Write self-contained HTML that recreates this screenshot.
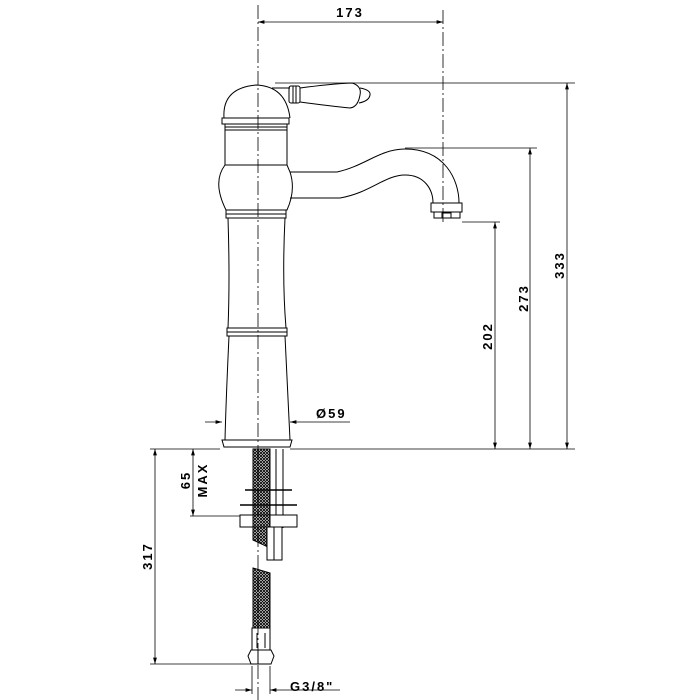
<!DOCTYPE html>
<html><head><meta charset="utf-8"><style>
html,body{margin:0;padding:0;background:#fff}
svg{display:block}
text{font-family:"Liberation Sans",sans-serif;font-weight:bold;font-size:13px;fill:#000;letter-spacing:2px}
</style></head><body>
<svg width="700" height="700" viewBox="0 0 700 700" xmlns="http://www.w3.org/2000/svg">
<defs>
<marker id="a" viewBox="0 0 10 10" refX="10" refY="5" markerWidth="8" markerHeight="8" orient="auto-start-reverse"><path d="M0,2 L10,5 L0,8 z" fill="#000"/></marker>
<pattern id="h" width="3" height="3" patternUnits="userSpaceOnUse"><path d="M0,0 L3,3 M3,0 L0,3" stroke="#000" stroke-width="0.9"/></pattern>
</defs>
<g stroke="#000" fill="none" stroke-width="1">
<line x1="258" y1="5" x2="258" y2="700" stroke-dasharray="14,3,2,3" stroke-width="0.8"/>
<line x1="443" y1="10" x2="443" y2="225" stroke-dasharray="14,3,2,3" stroke-width="0.8"/>
<line x1="258" y1="22" x2="443" y2="22" marker-start="url(#a)" marker-end="url(#a)" stroke-width="0.8"/>
<line x1="275" y1="83" x2="575" y2="83" stroke-width="0.8"/>
<line x1="405" y1="148" x2="537" y2="148" stroke-width="0.8"/>
<line x1="462" y1="222" x2="500" y2="222" stroke-width="0.8"/>
<line x1="150" y1="449" x2="220" y2="449" stroke-width="0.8"/>
<line x1="290" y1="449" x2="575" y2="449" stroke-width="0.8"/>
<line x1="495" y1="222" x2="495" y2="449" marker-start="url(#a)" marker-end="url(#a)" stroke-width="0.8"/>
<line x1="530" y1="148" x2="530" y2="449" marker-start="url(#a)" marker-end="url(#a)" stroke-width="0.8"/>
<line x1="567" y1="83" x2="567" y2="449" marker-start="url(#a)" marker-end="url(#a)" stroke-width="0.8"/>
<line x1="205" y1="422" x2="222" y2="422" marker-end="url(#a)" stroke-width="0.8"/>
<line x1="350" y1="422" x2="290" y2="422" marker-end="url(#a)" stroke-width="0.8"/>
<path d="M224,118 Q222,88 256,85 Q286,86 290,118"/>
<path d="M222,118 L289,118 L289,124 L222,124 Z"/>
<path d="M225,124 L225,130 L287,130 L287,124"/>
<line x1="225" y1="127" x2="287" y2="127"/>
<line x1="225" y1="165" x2="287" y2="165"/>
<path d="M225,130 L225,165 Q212,182 226,210 L287,210 Q296,190 290,172 L287,165 L287,130"/>
<path d="M226,210 L286,210 L286,218 L226,218 Z"/>
<line x1="226" y1="214" x2="286" y2="214"/>
<path d="M228,218 Q230,280 228,328 L286,328 Q282,280 285,218"/>
<path d="M227,328 L287,328 L287,336 L227,336 Z"/>
<line x1="227" y1="332" x2="287" y2="332"/>
<path d="M229,336 Q226,400 225,440 L290,440 Q288,400 285,336"/>
<path d="M222,440 L292,440 L290,447 L224,447 Z"/>
<line x1="272" y1="88" x2="290" y2="88"/>
<rect x="289" y="86" width="11" height="17" rx="2"/>
<line x1="293" y1="86" x2="293" y2="103"/><line x1="296" y1="86" x2="296" y2="103"/>
<path d="M300,88 Q330,84 352,83 Q362,86 360,95 Q358,107 350,108 Q330,106 300,102"/>
<path d="M360,88 Q371,90 370,95 Q369,101 359,103"/>
<path d="M290,172 L337,172 C365,166 380,149 405,149 C445,149 459,180 459,203"/>
<path d="M290,198 L340,198 C370,193 385,175 405,175 C425,175 433,190 433,203"/>
<path d="M431,203 L462,203 L462,212 L431,212 Z"/>
<path d="M434,212 L434,218 L460,218 L460,212"/>
<rect x="442" y="213" width="9" height="5"/>
<path d="M253,449 L270,449 L270,548 L253,540 Z" fill="url(#h)"/>
<line x1="276" y1="449" x2="276" y2="528"/><line x1="283" y1="449" x2="283" y2="528"/>
<line x1="245" y1="490" x2="292" y2="490" stroke-width="1.5"/>
<line x1="240" y1="505" x2="297" y2="505" stroke-width="1.5"/>
<rect x="240" y="515" width="57" height="12" fill="#fff"/>
<path d="M253,515 L270,515 L270,527 L253,527 Z" fill="url(#h)"/>
<rect x="267" y="527" width="15" height="33" fill="#fff"/>
<line x1="274" y1="527" x2="274" y2="560"/>
<path d="M253,568 L270,573 L270,628 L253,628 Z" fill="url(#h)"/>
<path d="M252,628 L270,628 L270,650 L252,650 Z"/>
<line x1="257" y1="633" x2="257" y2="648"/><line x1="265" y1="633" x2="265" y2="648"/>
<path d="M251,650 L271,650 L274,656 L271,664 L251,664 L248,656 Z"/>
<line x1="258" y1="650" x2="258" y2="664"/>
<line x1="252" y1="666" x2="252" y2="694" stroke-width="0.8"/><line x1="270" y1="666" x2="270" y2="694" stroke-width="0.8"/>
<line x1="235" y1="690" x2="252" y2="690" marker-end="url(#a)" stroke-width="0.8"/>
<line x1="340" y1="690" x2="270" y2="690" marker-end="url(#a)" stroke-width="0.8"/>
<line x1="150" y1="664" x2="258" y2="664" stroke-width="0.8"/>
<line x1="155" y1="449" x2="155" y2="664" marker-start="url(#a)" marker-end="url(#a)" stroke-width="0.8"/>
<line x1="190" y1="516" x2="240" y2="516" stroke-width="0.8"/>
<line x1="193" y1="449" x2="193" y2="516" marker-start="url(#a)" marker-end="url(#a)" stroke-width="0.8"/>
</g>
<text x="350" y="17" text-anchor="middle">173</text>
<text x="316" y="418">Ø59</text>
<text x="290" y="691">G3/8"</text>
<text transform="translate(492,336) rotate(-90)" text-anchor="middle">202</text>
<text transform="translate(528,298) rotate(-90)" text-anchor="middle">273</text>
<text transform="translate(564,265) rotate(-90)" text-anchor="middle">333</text>
<text transform="translate(152,556) rotate(-90)" text-anchor="middle">317</text>
<text transform="translate(190,480) rotate(-90)" text-anchor="middle">65</text>
<text transform="translate(207,480) rotate(-90)" text-anchor="middle">MAX</text>
</svg>
</body></html>
